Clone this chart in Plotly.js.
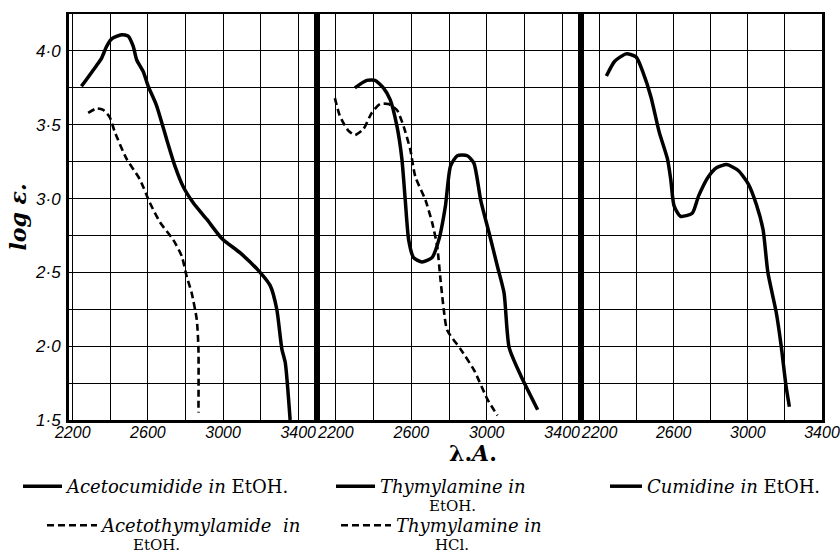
<!DOCTYPE html>
<html>
<head>
<meta charset="utf-8">
<script src="https://cdn.plot.ly/plotly-3.0.1.min.js"></script>
<style>
  html, body { margin: 0; padding: 0; background: #ffffff; }
  #chart { width: 840px; height: 555px; }
</style>
</head>
<body>
<div id="chart"></div>
<script>
// ---- Data (wavelength in Ångström, log ε) ----
const acetocumidideX = [2246,2326,2353,2380,2406,2460,2495,2522,2540,2575,2602,2646,2700,2744,2788,2842,2913,2993,3093,3197,3251,3286,3313,3331,3357];
const acetocumidideY = [3.76,3.90,3.95,4.03,4.08,4.11,4.10,4.03,3.94,3.86,3.76,3.63,3.40,3.22,3.08,2.97,2.86,2.73,2.63,2.50,2.41,2.25,1.98,1.89,1.50];

const acetothymylamideX = [2282,2326,2362,2397,2424,2486,2557,2611,2664,2735,2780,2807,2833,2860,2869,2869];
const acetothymylamideY = [3.58,3.61,3.60,3.55,3.45,3.27,3.13,2.97,2.84,2.72,2.61,2.47,2.36,2.18,1.98,1.55];

const thymylamineEtOHX = [2301,2364,2408,2452,2488,2524,2550,2568,2586,2612,2657,2710,2746,2781,2808,2844,2897,2932,2968,3012,3057,3092,3119,3181,3270];
const thymylamineEtOHY = [3.75,3.80,3.80,3.75,3.67,3.49,3.27,2.99,2.72,2.60,2.57,2.60,2.72,2.95,3.22,3.29,3.29,3.24,2.99,2.77,2.54,2.36,1.99,1.80,1.57];

const thymylamineHClX = [2195,2221,2266,2301,2346,2390,2435,2479,2524,2559,2595,2621,2675,2710,2737,2755,2772,2790,2861,2932,3004,3057];
const thymylamineHClY = [3.68,3.56,3.46,3.43,3.47,3.58,3.64,3.64,3.60,3.49,3.33,3.15,2.99,2.84,2.68,2.45,2.25,2.11,1.98,1.84,1.64,1.53];

const cumidineX = [2237,2282,2344,2397,2433,2477,2522,2566,2584,2602,2637,2700,2735,2788,2833,2886,2948,3002,3046,3082,3108,3153,3180,3206,3224];
const cumidineY = [3.83,3.93,3.98,3.96,3.86,3.69,3.45,3.27,3.13,2.95,2.88,2.90,3.02,3.15,3.21,3.23,3.19,3.10,2.96,2.79,2.50,2.23,2.00,1.73,1.59];

// ---- Tick labels ----
const xTickVals = [2200,2400,2600,2800,3000,3200,3400];
const xTickText = ['2200','','2600','','3000','','3400'];
const yTickVals = [1.5,1.75,2.0,2.25,2.5,2.75,3.0,3.25,3.5,3.75,4.0,4.25];
const yTickText = ['1·5','','2·0','','2·5','','3·0','','3·5','','4·0',''];

// ---- Legend labels (first line) and their continuation lines ----
const NB = '\u00a0';
const legendNames = [
  '<i>Acetocumidide in</i> EtOH.',
  '<i>Thymylamine in</i>',
  '<i>Cumidine in</i> EtOH.',
  '<i>Acetothymylamide' + NB + NB + 'in</i>',
  '<i>Thymylamine in</i>'
];
const continuationText = ['EtOH.', 'EtOH.', 'HCl.'];

const solid = {color: '#000', width: 3.5, shape: 'spline', smoothing: 0.6};
const dashed = {color: '#000', width: 2.6, dash: '7px,4px', shape: 'spline', smoothing: 0.6};

const traces = [
  {x: acetocumidideX, y: acetocumidideY, xaxis: 'x', yaxis: 'y', mode: 'lines', line: solid, name: legendNames[0], legend: 'legend'},
  {x: thymylamineEtOHX, y: thymylamineEtOHY, xaxis: 'x2', yaxis: 'y2', mode: 'lines', line: solid, name: legendNames[1], legend: 'legend2'},
  {x: cumidineX, y: cumidineY, xaxis: 'x3', yaxis: 'y3', mode: 'lines', line: solid, name: legendNames[2], legend: 'legend3'},
  {x: acetothymylamideX, y: acetothymylamideY, xaxis: 'x', yaxis: 'y', mode: 'lines', line: dashed, name: legendNames[3], legend: 'legend4'},
  {x: thymylamineHClX, y: thymylamineHClY, xaxis: 'x2', yaxis: 'y2', mode: 'lines', line: dashed, name: legendNames[4], legend: 'legend5'}
];

const xTickFont = {family: 'Liberation Sans, Arial, sans-serif', size: 16, color: '#000', style: 'italic'};
const yTickFont = {family: 'Liberation Sans, Arial, sans-serif', size: 17, color: '#000', style: 'italic'};

function xAxis(domain, range, anchor) {
  return {
    domain: domain, range: range, anchor: anchor,
    tickmode: 'array', tickvals: xTickVals, ticktext: xTickText,
    showgrid: true, gridcolor: '#000', gridwidth: 1,
    zeroline: false, showline: true, mirror: true, linecolor: '#000', linewidth: 2.5,
    ticks: '', ticklabelstandoff: -4, tickfont: xTickFont, fixedrange: true
  };
}
function yAxis(anchor, showLabels) {
  return {
    anchor: anchor, range: [1.5, 4.25], domain: [0, 1],
    tickmode: 'array', tickvals: yTickVals, ticktext: yTickText,
    showticklabels: showLabels,
    showgrid: true, gridcolor: '#000', gridwidth: 1,
    zeroline: false, showline: true, mirror: true, linecolor: '#000', linewidth: 3,
    ticks: '', ticklabelstandoff: 2, tickfont: yTickFont, fixedrange: true
  };
}

const d1 = 248 / 753, d2 = 512 / 753;

const y1 = yAxis('x', true);
y1.title = {text: '<b><i>log ε.</i></b>', font: {family: 'DejaVu Serif, serif', size: 22, color: '#000'}, standoff: 3};

// plot area: left 69px, bottom 420px, width 753px, height 406px
function legendAt(samplePx, centerPy, textGap) {
  return {
    orientation: 'v', x: (samplePx - 6 - 69) / 753, xanchor: 'left',
    y: -(centerPy - 18 - 420) / 406, yanchor: 'top',
    font: {family: 'DejaVu Serif, serif', size: 18, color: '#000'},
    itemwidth: Math.max(30, textGap - 4), valign: 'middle',
    bgcolor: 'rgba(0,0,0,0)', borderwidth: 0
  };
}
function contNote(text, cx, cy) {
  return {
    text: text, xref: 'paper', yref: 'paper',
    x: (cx - 69) / 753, y: -(cy - 420) / 406, xanchor: 'center', yanchor: 'middle',
    showarrow: false, font: {family: 'DejaVu Serif, serif', size: 15, color: '#000'}
  };
}

const layout = {
  width: 840, height: 555,
  margin: {l: 69, r: 18, t: 14, b: 135, autoexpand: false},
  paper_bgcolor: '#fff', plot_bgcolor: '#fff',
  xaxis: xAxis([0, d1], [2180, 3500], 'y'),
  xaxis2: xAxis([d1, d2], [2100, 3500], 'y2'),
  xaxis3: xAxis([d2, 1], [2100, 3400], 'y3'),
  yaxis: y1,
  yaxis2: yAxis('x2', false),
  yaxis3: yAxis('x3', false),
  showlegend: true,
  legend: legendAt(24, 486, 43),
  legend2: legendAt(337, 486, 43),
  legend3: legendAt(611, 486, 36),
  legend4: legendAt(48, 525, 54),
  legend5: legendAt(342, 525, 54),
  annotations: [
    {
      text: '<b>λ.<i>A</i>.</b>', xref: 'paper', yref: 'paper',
      x: (473 - 69) / 753, y: -(453 - 420) / 406, xanchor: 'center', yanchor: 'middle',
      showarrow: false, font: {family: 'DejaVu Serif, serif', size: 22, color: '#000'}
    },
    contNote(continuationText[0], 452, 505.5),
    contNote(continuationText[1], 156, 545),
    contNote(continuationText[2], 452, 545)
  ]
};

Plotly.newPlot('chart', traces, layout, {displayModeBar: false, staticPlot: true});
</script>
</body>
</html>
